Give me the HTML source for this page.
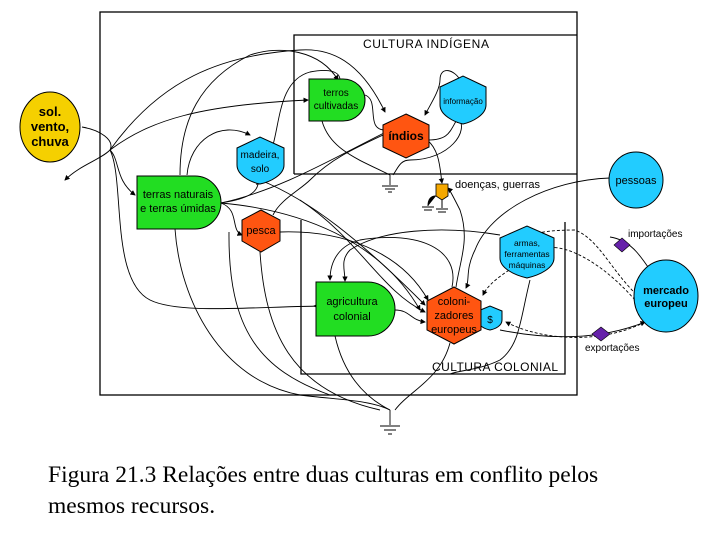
<!DOCTYPE html>
<html><head><meta charset="utf-8"><style>
html,body{margin:0;padding:0;background:#fff;width:720px;height:540px;overflow:hidden}
svg{position:absolute;left:0;top:0}
.cap{position:absolute;left:48px;font-family:"Liberation Serif",serif;font-size:23.5px;color:#000;white-space:nowrap}
</style></head><body>
<svg width="720" height="540" viewBox="0 0 720 540" font-family="Liberation Sans, sans-serif">
<defs><marker id="a" markerWidth="6" markerHeight="6" refX="5" refY="3" orient="auto"><path d="M0,0 L6,3 L0,6z" fill="#000"/></marker></defs>
<g fill="none" stroke="#000" stroke-width="1.3">
<rect x="100" y="12" width="477" height="383"/>
<path d="M294,174 V35 H577"/>
<path d="M294,174 H577"/>
<path d="M301,220 V374 H565 V222"/>
</g>
<g fill="none" stroke="#000" stroke-width="0.9">
<path d="M82,127 C100,130 115,140 110,150 C100,160 80,165 65,180" marker-end="url(#a)"/>
<path d="M110,150 C150,120 200,105 308,100" marker-end="url(#a)"/>
<path d="M110,150 C120,160 115,180 135,195" marker-end="url(#a)"/>
<path d="M110,150 C125,180 110,280 150,300 C180,315 260,306 330,306"/>
<path d="M110,150 C160,80 220,55 300,50 C330,48 360,60 385,112" marker-end="url(#a)"/>
<path d="M180,175 C180,120 200,80 250,55 C280,45 320,50 338,80" marker-end="url(#a)"/>
<path d="M187,175 C190,140 220,120 250,135" marker-end="url(#a)"/>
<path d="M221,203 C240,200 260,195 258,180" marker-end="url(#a)"/>
<path d="M221,203 C240,210 230,230 242,235" marker-end="url(#a)"/>
<path d="M221,203 C280,190 330,160 388,131" marker-end="url(#a)"/>
<path d="M221,203 C300,210 380,240 420,310" marker-end="url(#a)"/>
<path d="M260,180 C310,200 360,240 425,305" marker-end="url(#a)"/>
<path d="M280,232 C340,230 400,250 428,300" marker-end="url(#a)"/>
<path d="M273,215 C280,200 300,190 310,180 C330,160 350,150 394,130"/>
<path d="M273,145 C280,120 280,80 310,72 C330,68 340,72 340,80"/>
<path d="M365,95 C380,100 365,130 385,130"/>
<path d="M428,140 C450,140 450,130 458,118" marker-end="url(#a)"/>
<path d="M427,140 C440,150 440,170 442,183" marker-end="url(#a)"/>
<path d="M322,121 C330,150 360,160 390,175"/>
<path d="M458,118 C470,130 450,160 410,160 C400,160 398,168 393,175"/>
<path d="M460,80 C455,70 440,65 440,80 C440,90 430,105 425,115" marker-end="url(#a)"/>
<path d="M175,229 C180,300 220,380 300,395 C340,400 370,400 390,410"/>
<path d="M260,252 C265,330 290,390 380,410"/>
<path d="M335,336 C345,380 370,400 390,410"/>
<path d="M450,343 C440,380 410,390 395,410"/>
<path d="M229,232 C228,330 260,370 330,395"/>
<path d="M330,306 H314" marker-end="url(#a)"/>
<path d="M452,287 C460,250 420,230 360,240 C340,245 330,260 330,280" marker-end="url(#a)"/>
<path d="M500,235 C440,225 380,230 350,250 C340,260 345,270 345,281" marker-end="url(#a)"/>
<path d="M395,310 C410,310 410,320 425,322" marker-end="url(#a)"/>
<path d="M300,200 C360,240 380,290 425,312" marker-end="url(#a)"/>
<path d="M610,178 C550,180 490,210 475,250 C465,270 470,280 466,288" marker-end="url(#a)"/>
<path d="M456,287 C460,260 470,240 460,210 C455,200 450,190 448,188" marker-end="url(#a)"/>
<path d="M530,280 C520,320 520,345 500,360 C480,370 460,370 450,374"/>
<path d="M640,298 C610,270 600,240 575,230 C540,230 520,235 520,248" stroke-dasharray="3,2" marker-end="url(#a)"/>
<path d="M635,300 C600,260 560,240 540,250 C510,270 490,280 483,295" stroke-dasharray="3,2" marker-end="url(#a)"/>
<path d="M500,330 C550,340 600,340 645,322" marker-end="url(#a)"/>
<path d="M645,322 C600,345 540,340 506,322" stroke-dasharray="3,2" marker-end="url(#a)"/>
<path d="M610,237 C630,240 640,255 650,270"/>
<path d="M390,175 V185"/><path d="M390,410 V425"/>
</g>
<g stroke="#000" stroke-width="1">
<path d="M382,186 h16 M385,189 h10 M388,192 h4"/>
<path d="M380,426 h20 M384,430 h12 M388,434 h4"/>
<path d="M442,200 v8 M436,209 h12 M438,212 h8"/>
<path d="M436,196 c-6,0 -8,4 -8,10 M422,207 h12 M424,210 h8"/>
</g>
<ellipse cx="50" cy="127" rx="30" ry="35" fill="#f5d000" stroke="#000"/>
<text x="50" y="116" font-size="13" font-weight="bold" text-anchor="middle">sol.</text>
<text x="50" y="131" font-size="13" font-weight="bold" text-anchor="middle">vento,</text>
<text x="50" y="146" font-size="13" font-weight="bold" text-anchor="middle">chuva</text>
<path d="M309,79 H343 A22,21 0 0 1 343,121 H309Z" fill="#22dd22" stroke="#000"/>
<text x="336" y="96" font-size="10" text-anchor="middle">terros</text>
<text x="336" y="109" font-size="10" text-anchor="middle">cultivadas</text>
<path d="M137,176 H195 A26,26.5 0 0 1 195,229 H137Z" fill="#22dd22" stroke="#000"/>
<text x="178" y="198" font-size="11" text-anchor="middle">terras naturais</text>
<text x="178" y="212" font-size="11" text-anchor="middle">e terras úmidas</text>
<path d="M316,282 H368 A27,27 0 0 1 368,336 H316Z" fill="#22dd22" stroke="#000"/>
<text x="352" y="305" font-size="11" text-anchor="middle">agricultura</text>
<text x="352" y="320" font-size="11" text-anchor="middle">colonial</text>
<path d="M440,87 L463,76 L486,87 V105 C486,115 472,122 463,124 C454,122 440,115 440,105Z" fill="#22ccff" stroke="#000"/>
<text x="463" y="104" font-size="8" text-anchor="middle">informação</text>
<path d="M237,148 L260,137 L284,148 V165 C284,175 270,182 260,184 C250,182 237,175 237,165Z" fill="#22ccff" stroke="#000"/>
<text x="260" y="158" font-size="10" text-anchor="middle">madeira,</text>
<text x="260" y="172" font-size="10" text-anchor="middle">solo</text>
<path d="M500,238 L527,226 L554,238 V258 C554,268 540,275 527,278 C514,275 500,268 500,258Z" fill="#22ccff" stroke="#000"/>
<text x="527" y="246" font-size="8.5" text-anchor="middle">armas,</text>
<text x="527" y="257" font-size="8.5" text-anchor="middle">ferramentas</text>
<text x="527" y="268" font-size="8.5" text-anchor="middle">máquinas</text>
<path d="M478,311 L490,306 L502,311 V320 C502,326 495,329 490,330 C485,329 478,326 478,320Z" fill="#22ccff" stroke="#000"/>
<text x="490" y="323" font-size="10" text-anchor="middle">$</text>
<path d="M406,114 L429,125 V147 L406,158 L383,147 V125Z" fill="#ff5511" stroke="#000"/>
<text x="406" y="140" font-size="12" font-weight="bold" text-anchor="middle">índios</text>
<path d="M261,210 L280,220 V241 L261,252 L242,241 V220Z" fill="#ff5511" stroke="#000"/>
<text x="261" y="234" font-size="11" text-anchor="middle">pesca</text>
<path d="M454,287 L481,301 V330 L454,344 L427,330 V301Z" fill="#ff5511" stroke="#000"/>
<text x="454" y="305" font-size="11" text-anchor="middle">coloni-</text>
<text x="454" y="319" font-size="11" text-anchor="middle">zadores</text>
<text x="454" y="333" font-size="11" text-anchor="middle">europeus</text>
<path d="M436,184 H448 V196 L442,200 L436,196Z" fill="#f5a800" stroke="#000" stroke-width=".8"/>
<text x="455" y="188" font-size="11">doenças, guerras</text>
<ellipse cx="636" cy="180" rx="27" ry="28" fill="#22ccff" stroke="#000"/>
<text x="636" y="184" font-size="11" text-anchor="middle">pessoas</text>
<ellipse cx="666" cy="296" rx="32" ry="36" fill="#22ccff" stroke="#000"/>
<text x="666" y="294" font-size="11" font-weight="bold" text-anchor="middle">mercado</text>
<text x="666" y="307" font-size="11" font-weight="bold" text-anchor="middle">europeu</text>
<path d="M622,238 L630,245 L622,252 L614,245Z" fill="#6622aa" stroke="#000" stroke-width=".6"/>
<path d="M601,327 L610,334 L601,341 L592,334Z" fill="#6622aa" stroke="#000" stroke-width=".6"/>
<text x="628" y="237" font-size="10">importações</text>
<text x="585" y="351" font-size="10">exportações</text>
<text x="489" y="48" font-size="12" text-anchor="end" textLength="126">CULTURA INDÍGENA</text>
<text x="558" y="371" font-size="12" text-anchor="end" textLength="126">CULTURA COLONIAL</text>
</svg>
<div class="cap" style="top:462px">Figura 21.3 Relações entre duas culturas em conflito pelos</div>
<div class="cap" style="top:493px">mesmos recursos.</div>
</body></html>
